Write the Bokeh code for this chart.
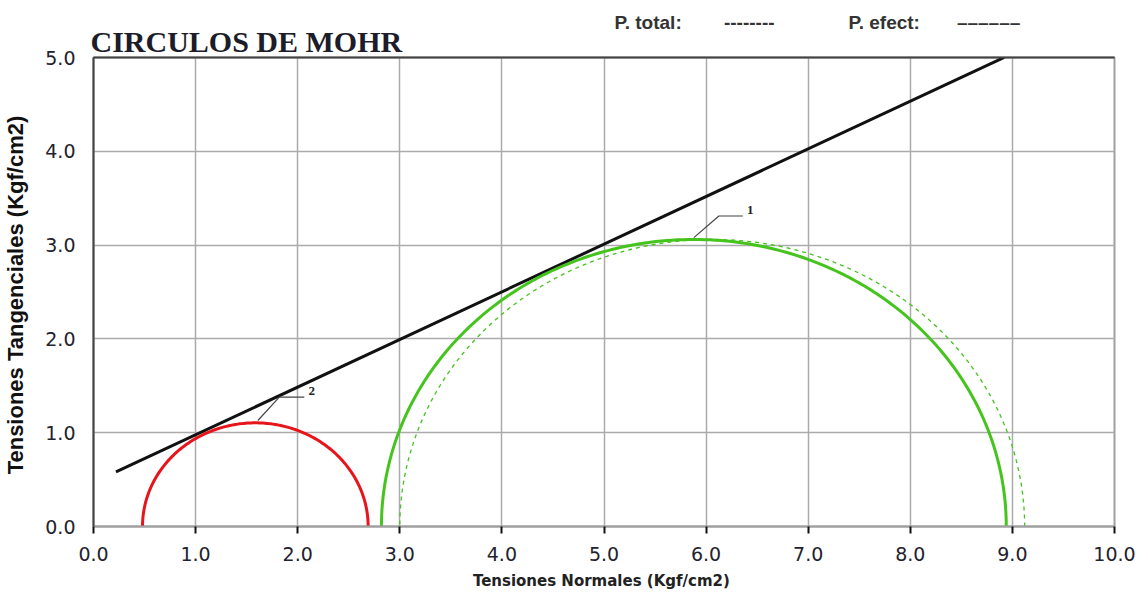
import numpy as np
from bokeh.plotting import figure
from bokeh.models import Label, LinearAxis, FixedTicker, Title
from bokeh.embed import file_html
from bokeh.resources import INLINE

# ---------------- data ----------------
x_ticks = [0, 1, 2, 3, 4, 5, 6, 7, 8, 9, 10]
y_ticks = [0, 1, 2, 3, 4, 5]
x_tick_labels = ["0.0", "1.0", "2.0", "3.0", "4.0", "5.0", "6.0", "7.0", "8.0", "9.0", "10.0"]
y_tick_labels = ["0.0", "1.0", "2.0", "3.0", "4.0", "5.0"]

# Mohr circles: minor / major principal stresses (Kgf/cm2)
circle_names = ["1 efect", "1 total", "2 efect"]
circle_sigma3 = [2.82, 3.00, 0.48]
circle_sigma1 = [8.94, 9.12, 2.69]

# failure envelope  tau = c + sigma * tan(phi)
envelope_c = 0.47
envelope_tan_phi = 0.508
envelope_sigma = [0.22, 8.92]

# circle label leaders: (circle point) -> elbow -> end, label text
label_texts = ["1", "2"]
leader_x = [[5.88, 6.125, 6.36], [1.61, 1.82, 2.065]]
leader_y = [[3.08, 3.31, 3.31], [1.13, 1.38, 1.38]]

legend_total = "P. total:"
legend_total_sample = "--------"
legend_efect = "P. efect:"
legend_efect_sample = "––––––"

# ---------------- figure ----------------
p = figure(width=1136, height=592, output_backend="svg", toolbar_location=None,
           title=None, x_range=(0, 10), y_range=(0, 5),
           min_border_left=92, min_border_right=22, min_border_top=57, min_border_bottom=66)
p.background_fill_color = "white"
p.border_fill_color = "white"
p.outline_line_color = "#a0a0a0"
p.outline_line_width = 2

# x axis
xa = p.xaxis[0]
xa.ticker = FixedTicker(ticks=x_ticks)
xa.major_label_overrides = {t: l for t, l in zip(x_ticks, x_tick_labels)}
xa.major_label_text_font = "DejaVu Sans"
xa.major_label_text_font_size = "19px"
xa.major_label_text_color = "#22222e"
xa.major_label_standoff = 13
xa.major_tick_out = 7
xa.major_tick_in = 0
xa.major_tick_line_color = "#111111"
xa.major_tick_line_width = 2
xa.minor_tick_line_color = None
xa.axis_line_color = "#a0a0a0"
xa.axis_line_width = 2
xa.axis_label = "Tensiones Normales  (Kgf/cm2)"
xa.axis_label_text_font = "DejaVu Sans"
xa.axis_label_text_font_style = "bold"
xa.axis_label_text_font_size = "15px"
xa.axis_label_text_color = "#222222"
xa.axis_label_standoff = 8

# y axis
ya = p.yaxis[0]
ya.ticker = FixedTicker(ticks=y_ticks)
ya.major_label_overrides = {t: l for t, l in zip(y_ticks, y_tick_labels)}
ya.major_label_text_font = "DejaVu Sans"
ya.major_label_text_font_size = "19px"
ya.major_label_text_color = "#22222e"
ya.major_label_standoff = 18
ya.major_tick_out = 0
ya.major_tick_in = 0
ya.minor_tick_line_color = None
ya.axis_line_color = "#444444"
ya.axis_line_width = 2
ya.axis_label = "Tensiones Tangenciales  (Kgf/cm2)"
ya.axis_label_text_font = "Liberation Sans"
ya.axis_label_text_font_style = "bold"
ya.axis_label_text_font_size = "22px"
ya.axis_label_text_color = "#111111"
ya.axis_label_standoff = 14

# dark top border
top = LinearAxis(ticker=FixedTicker(ticks=[]), major_label_text_font_size="0px",
                 major_label_standoff=0, axis_label=None,
                 major_tick_out=0, major_tick_in=0, minor_tick_out=0, minor_tick_in=0,
                 axis_line_color="#444444", axis_line_width=2)
p.add_layout(top, "above")

# title, then legend text line (stacked outward)
p.add_layout(Title(text="CIRCULOS DE MOHR", text_font="Liberation Serif", text_font_style="bold",
                   text_font_size="30px", text_color="#1c1c2a", align="left", offset=-3,
                   standoff=0), "above")
nb = "\u00a0"
legend_line = (legend_total + nb * 8 + legend_total_sample + nb * 14 +
               legend_efect + nb * 7 + legend_efect_sample)
p.add_layout(Title(text=legend_line, text_font="Liberation Sans", text_font_style="bold",
                   text_font_size="19px", text_color="#333333", align="left", offset=521,
                   standoff=-20), "above")

p.xgrid.ticker = FixedTicker(ticks=x_ticks)
p.ygrid.ticker = FixedTicker(ticks=y_ticks)
p.xgrid.grid_line_color = "#ababab"
p.ygrid.grid_line_color = "#ababab"
p.xgrid.grid_line_width = 1.5
p.ygrid.grid_line_width = 1.5

# ---------------- envelope ----------------
env_y = [envelope_c + envelope_tan_phi * s for s in envelope_sigma]
p.line(envelope_sigma, env_y, line_color="#111111", line_width=3)

# ---------------- Mohr circles ----------------
styles = {
    "1 efect": dict(line_color="#46c41e", line_width=3),
    "1 total": dict(line_color="#46c41e", line_width=1.3, line_dash="4 4"),
    "2 efect": dict(line_color="#e8141c", line_width=3),
}
theta = np.linspace(0, np.pi, 181)
for name, s3, s1 in zip(circle_names, circle_sigma3, circle_sigma1):
    cx = (s1 + s3) / 2.0
    r = (s1 - s3) / 2.0
    p.line(cx + r * np.cos(theta), r * np.sin(theta), **styles[name])

# ---------------- leaders + numbers ----------------
for t, lx, ly in zip(label_texts, leader_x, leader_y):
    p.line(lx, ly, line_color="#444444", line_width=1.2)
    p.add_layout(Label(x=lx[-1] + 0.04, y=ly[-1] + 0.02, text=t, text_font="Liberation Serif",
                       text_font_style="bold", text_font_size="13px", text_color="#222222",
                       text_baseline="bottom"))

open("out.html", "w").write(file_html(p, INLINE))
